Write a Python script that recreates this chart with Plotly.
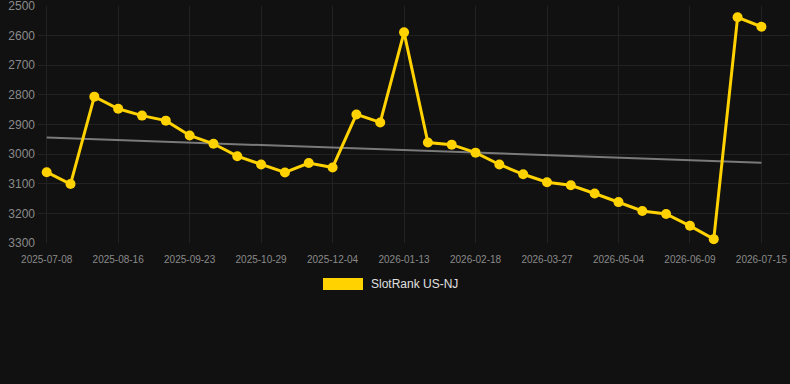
import plotly.graph_objects as go

dates = [
    "2025-07-08", "2025-07-21", "2025-08-03", "2025-08-16", "2025-08-29", "2025-09-11",
    "2025-09-23", "2025-10-05", "2025-10-17", "2025-10-29", "2025-11-10", "2025-11-22",
    "2025-12-04", "2025-12-17", "2025-12-30", "2026-01-13", "2026-01-25", "2026-02-06",
    "2026-02-18", "2026-03-02", "2026-03-14", "2026-03-27", "2026-04-09", "2026-04-21",
    "2026-05-04", "2026-05-16", "2026-05-28", "2026-06-09", "2026-06-21", "2026-07-03",
    "2026-07-15",
]
ranks = [
    3061, 3101, 2806, 2847, 2870, 2887, 2937, 2965, 3007, 3035,
    3062, 3030, 3045, 2866, 2893, 2589, 2961, 2968, 2995, 3035,
    3068, 3095, 3105, 3133, 3162, 3192, 3202, 3242, 3287, 2538,
    2570,
]
trend_dates = [dates[0], dates[-1]]
trend_values = [2944, 3029]
tick_dates = dates[::3]
y_ticks = [2500, 2600, 2700, 2800, 2900, 3000, 3100, 3200, 3300]
series_name = "SlotRank US-NJ"

GOLD = "#FFD200"
BG = "#111111"
GRID = "#222222"
TICK = "#8a8a8a"
FONT = "Liberation Sans, Arial, sans-serif"

fig = go.Figure()
fig.add_trace(go.Scatter(
    x=trend_dates, y=trend_values, mode="lines",
    line=dict(color="#7a7a7a", width=2), showlegend=False, hoverinfo="skip",
))
fig.add_trace(go.Scatter(
    x=dates, y=ranks, mode="lines+markers", name=series_name,
    line=dict(color=GOLD, width=3),
    marker=dict(color=GOLD, size=10),
    showlegend=False, cliponaxis=False,
))

fig.update_layout(
    width=790, height=384,
    paper_bgcolor=BG, plot_bgcolor=BG,
    margin=dict(l=38, r=0, t=6, b=141),
    font=dict(family=FONT, color=TICK),
    xaxis=dict(
        type="category", categoryorder="array", categoryarray=dates,
        range=[-0.365, 31.2],
        tickmode="array", tickvals=tick_dates, ticktext=tick_dates,
        tickfont=dict(size=10, color=TICK),
        showgrid=True, gridcolor=GRID, gridwidth=1,
        zeroline=False, showline=False, ticks="",
        ticklabelstandoff=9, ticklabeloverflow="allow",
    ),
    yaxis=dict(
        range=[3300, 2500], tickmode="array", tickvals=y_ticks,
        tickfont=dict(size=12, color=TICK),
        showgrid=True, gridcolor=GRID, gridwidth=1,
        zeroline=False, showline=False, ticks="",
        ticklabelstandoff=2, ticklabeloverflow="allow",
    ),
    shapes=[dict(
        type="rect", xref="paper", yref="paper",
        x0=(323 - 38) / 752, x1=(363 - 38) / 752,
        y0=(384 - 141 - 290) / 237, y1=(384 - 141 - 278) / 237,
        fillcolor=GOLD, line=dict(width=0),
    )],
    annotations=[dict(
        xref="paper", yref="paper",
        x=(369 - 38) / 752, y=(384 - 141 - 284) / 237,
        xanchor="left", yanchor="middle", showarrow=False,
        text=series_name, font=dict(size=12, color="#e0e0e0", family=FONT),
    )],
)

fig.write_html("out.html")
